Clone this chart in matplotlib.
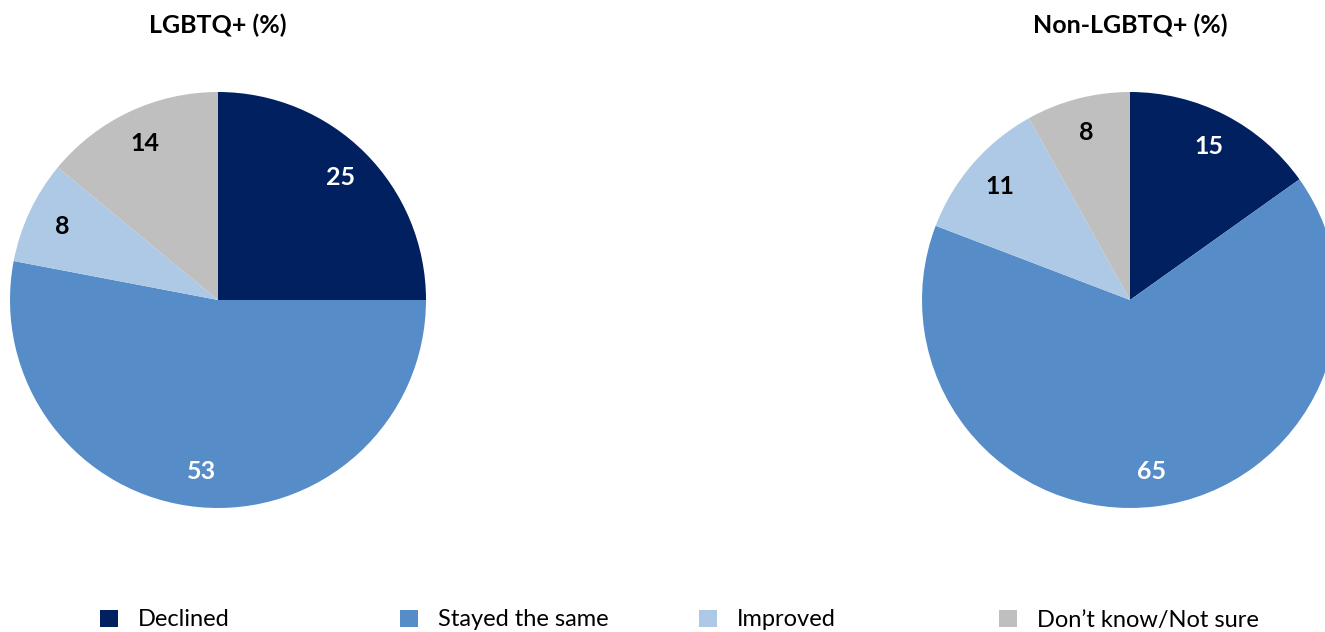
import matplotlib.pyplot as plt

categories = ["Declined", "Stayed the same", "Improved", "Don\u2019t know/Not sure"]
lgbtq = [25, 53, 8, 14]
non_lgbtq = [15, 65, 11, 8]
titles = ["LGBTQ+ (%)", "Non-LGBTQ+ (%)"]

colors = ["#002060", "#568DC8", "#AEC9E5", "#BFBFBF"]
label_colors = ["white", "white", "black", "black"]

plt.rcParams['font.family'] = ['Lato', 'DejaVu Sans']

W, H = 1325, 632
fig = plt.figure(figsize=(W / 100, H / 100), dpi=100)


def pie_axes(cx, cy, r):
    return fig.add_axes([(cx - r) / W, (H - cy - r) / H, 2 * r / W, 2 * r / H])


wedges = None
for (cx, cy), values, title in zip([(218, 300), (1130, 300)], [lgbtq, non_lgbtq], titles):
    ax = pie_axes(cx, cy, 208)
    wedges, texts = ax.pie(values, labels=[str(v) for v in values], colors=colors,
                           startangle=90, counterclock=False,
                           labeldistance=0.83, radius=1.0)
    for t, c in zip(texts, label_colors):
        t.set_color(c)
        t.set_fontsize(18)
        t.set_fontweight('bold')
        t.set_ha('center')
        t.set_va('center')
    ax.set_xlim(-1, 1)
    ax.set_ylim(-1, 1)
    ax.set_aspect('equal')
    fig.text(cx / W, 1 - 25 / H, title, ha='center', va='center',
             fontsize=18, fontweight='bold')

# legend, one entry per slot
for w, name, x in zip(wedges, categories, [100, 400, 699, 999]):
    fig.legend([w], [name], loc='center left', bbox_to_anchor=(x / W, 1 - 620 / H),
               frameon=False, fontsize=17, handlelength=0.75, handleheight=0.75,
               handletextpad=0.85, borderpad=0, borderaxespad=0)

plt.savefig("out.png", dpi=100)
plt.close()
